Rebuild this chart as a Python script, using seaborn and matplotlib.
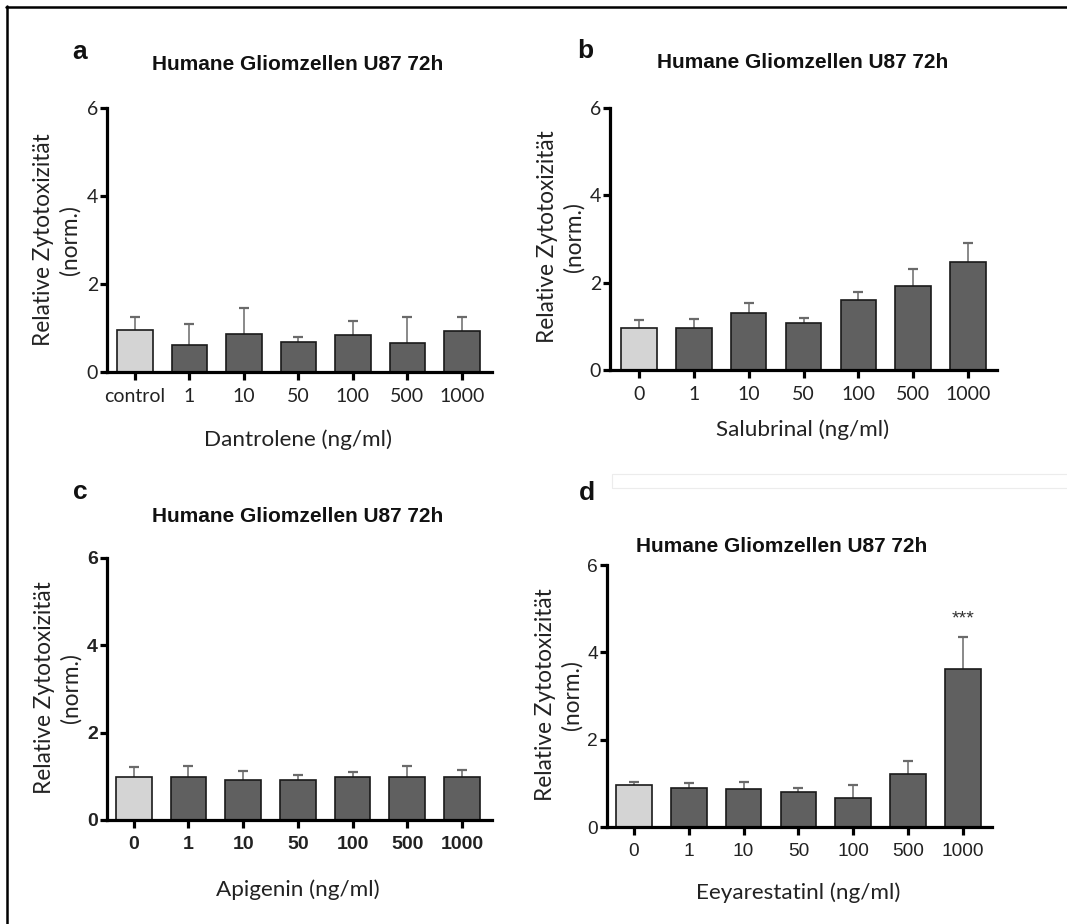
import numpy as np
import pandas as pd
import matplotlib
matplotlib.use("Agg")
import matplotlib.pyplot as plt
import seaborn as sns

sns.set_theme(style="white")
plt.rcParams['font.family'] = ['Lato', 'DejaVu Sans']

# ---------------- data ----------------
title = "Humane Gliomzellen U87 72h"
ylabel = "Relative Zytotoxizität\n(norm.)"

a_labels = ["control", "1", "10", "50", "100", "500", "1000"]
a_vals = [0.95, 0.61, 0.87, 0.68, 0.83, 0.67, 0.93]
a_err = [0.31, 0.47, 0.59, 0.12, 0.34, 0.59, 0.32]

b_labels = ["0", "1", "10", "50", "100", "500", "1000"]
b_vals = [0.97, 0.97, 1.30, 1.08, 1.60, 1.92, 2.47]
b_err = [0.17, 0.19, 0.24, 0.12, 0.18, 0.40, 0.43]

c_labels = ["0", "1", "10", "50", "100", "500", "1000"]
c_vals = [0.99, 0.99, 0.92, 0.92, 0.99, 0.99, 0.99]
c_err = [0.23, 0.25, 0.21, 0.12, 0.10, 0.25, 0.15]

d_labels = ["0", "1", "10", "50", "100", "500", "1000"]
d_vals = [0.97, 0.90, 0.88, 0.80, 0.67, 1.22, 3.62]
d_err = [0.06, 0.11, 0.14, 0.09, 0.29, 0.29, 0.74]

xlabels = ["Dantrolene (ng/ml)", "Salubrinal (ng/ml)", "Apigenin (ng/ml)", "Eeyarestatinl (ng/ml)"]
letters = ["a", "b", "c", "d"]
yticks = [0, 2, 4, 6]

LIGHT = "#d4d4d4"
DARK = "#606060"

W, H = 1067, 924
fig = plt.figure(figsize=(W / 100, H / 100), dpi=100)
fig.patch.set_facecolor("white")


def fx(px):
    return px / W


def fy(py):
    return 1 - py / H


# panel geometry in pixels: left, right, top, bottom, xlim
panels = [
    dict(box=(107, 492, 108, 372), xlim=(-0.51, 6.55), labels=a_labels, vals=a_vals, err=a_err,
         tickfont=dict(family=['Lato'], weight='normal', size=14), ytickfont=dict(family=['Lato'], weight='normal', size=14),
         title=(298, 65), letter=(80, 52), ylab=(57, 240), xlab=(298, 440)),
    dict(box=(610, 997, 108, 370), xlim=(-0.53, 6.53), labels=b_labels, vals=b_vals, err=b_err,
         tickfont=dict(family=['Lato'], weight='normal', size=14), ytickfont=dict(family=['Lato'], weight='normal', size=14),
         title=(803, 62), letter=(585, 51), ylab=(561, 237), xlab=(803, 430)),
    dict(box=(107, 492, 558, 820), xlim=(-0.49, 6.55), labels=c_labels, vals=c_vals, err=c_err,
         tickfont=dict(family=['Liberation Sans'], weight='bold', size=14), ytickfont=dict(family=['Liberation Sans'], weight='bold', size=14),
         title=(298, 517), letter=(80, 492), ylab=(58, 688), xlab=(298, 890)),
    dict(box=(607, 992, 565, 827), xlim=(-0.49, 6.53), labels=d_labels, vals=d_vals, err=d_err,
         tickfont=dict(family=['Liberation Sans'], weight='normal', size=13.8), ytickfont=dict(family=['Liberation Sans'], weight='normal', size=13.8),
         title=(782, 547), letter=(587, 493), ylab=(559, 695), xlab=(798, 893)),
]

for i, p in enumerate(panels):
    l, r, t, b = p["box"]
    ax = fig.add_axes([fx(l), fy(b), fx(r - l), (b - t) / H])
    df = pd.DataFrame({"dose": p["labels"], "value": p["vals"]})
    pal = [LIGHT] + [DARK] * (len(p["labels"]) - 1)
    ax.errorbar(range(len(p["vals"])), p["vals"], yerr=p["err"], fmt="none",
                ecolor="#6a6a6a", elinewidth=1.1, capsize=3.5, capthick=1.6, zorder=1)
    sns.barplot(data=df, x="dose", y="value", hue="dose", order=p["labels"],
                hue_order=p["labels"], palette=pal, legend=False, errorbar=None,
                width=0.65, edgecolor="#1a1a1a", linewidth=1.2, ax=ax, zorder=2)
    for patch in ax.patches:
        patch.set_zorder(2)
    ax.set_xlim(*p["xlim"])
    ax.set_ylim(0, 6)
    ax.set_yticks(yticks)
    ax.set_xlabel("")
    ax.set_ylabel("")
    ax.set_facecolor("white")
    for s in ["top", "right"]:
        ax.spines[s].set_visible(False)
    for s in ["left", "bottom"]:
        ax.spines[s].set_visible(True)
        ax.spines[s].set_color("black")
        ax.spines[s].set_linewidth(2.3)
    ax.tick_params(axis="x", direction="out", length=5.5, width=2.3, color="black", pad=6,
                   bottom=True)
    ax.tick_params(axis="y", direction="out", length=5, width=2.3, color="black", pad=1.5,
                   left=True)
    tf = p["tickfont"]
    for lab in ax.get_xticklabels():
        lab.set_fontfamily(tf["family"])
        lab.set_fontweight(tf["weight"])
        lab.set_fontsize(tf["size"])
        lab.set_color("#222222")
    ytf = p["ytickfont"]
    for lab in ax.get_yticklabels():
        lab.set_fontfamily(ytf["family"])
        lab.set_fontweight(ytf["weight"])
        lab.set_fontsize(ytf["size"])
        lab.set_color("#222222")

    fig.text(fx(p["title"][0]), fy(p["title"][1]), title, ha="center", va="center",
             family=["Liberation Sans"], weight="bold", fontsize=15, color="#111111")
    fig.text(fx(p["letter"][0]), fy(p["letter"][1]), letters[i], ha="center", va="center",
             family=["Liberation Sans"], weight="bold", fontsize=19, color="#111111")
    fig.text(fx(p["ylab"][0]), fy(p["ylab"][1]), ylabel, ha="center", va="center",
             rotation=90, multialignment="center", linespacing=1.3,
             family=["Lato"], fontsize=16.3, color="#222222")
    fig.text(fx(p["xlab"][0]), fy(p["xlab"][1]), xlabels[i], ha="center", va="center",
             family=["Lato"], fontsize=16.2, color="#222222")

    if i == 3:
        ax.text(6, 4.76, "***", ha="center", va="center", family=["Liberation Sans"],
                fontsize=14, color="#333333")

# faint box artefact above panel d
fig.add_artist(plt.Rectangle((fx(612), fy(488)), fx(W - 612 + 5), (488 - 474) / H,
                             fill=False, edgecolor="#ececec", linewidth=0.8))
# figure border (top and left)
fig.add_artist(plt.Line2D([fx(6), fx(W + 5)], [fy(6.5), fy(6.5)], color="black", linewidth=1.8))
fig.add_artist(plt.Line2D([fx(6.5), fx(6.5)], [fy(6), fy(H + 5)], color="black", linewidth=1.8))

fig.savefig("out.png", dpi=100, facecolor="white")
